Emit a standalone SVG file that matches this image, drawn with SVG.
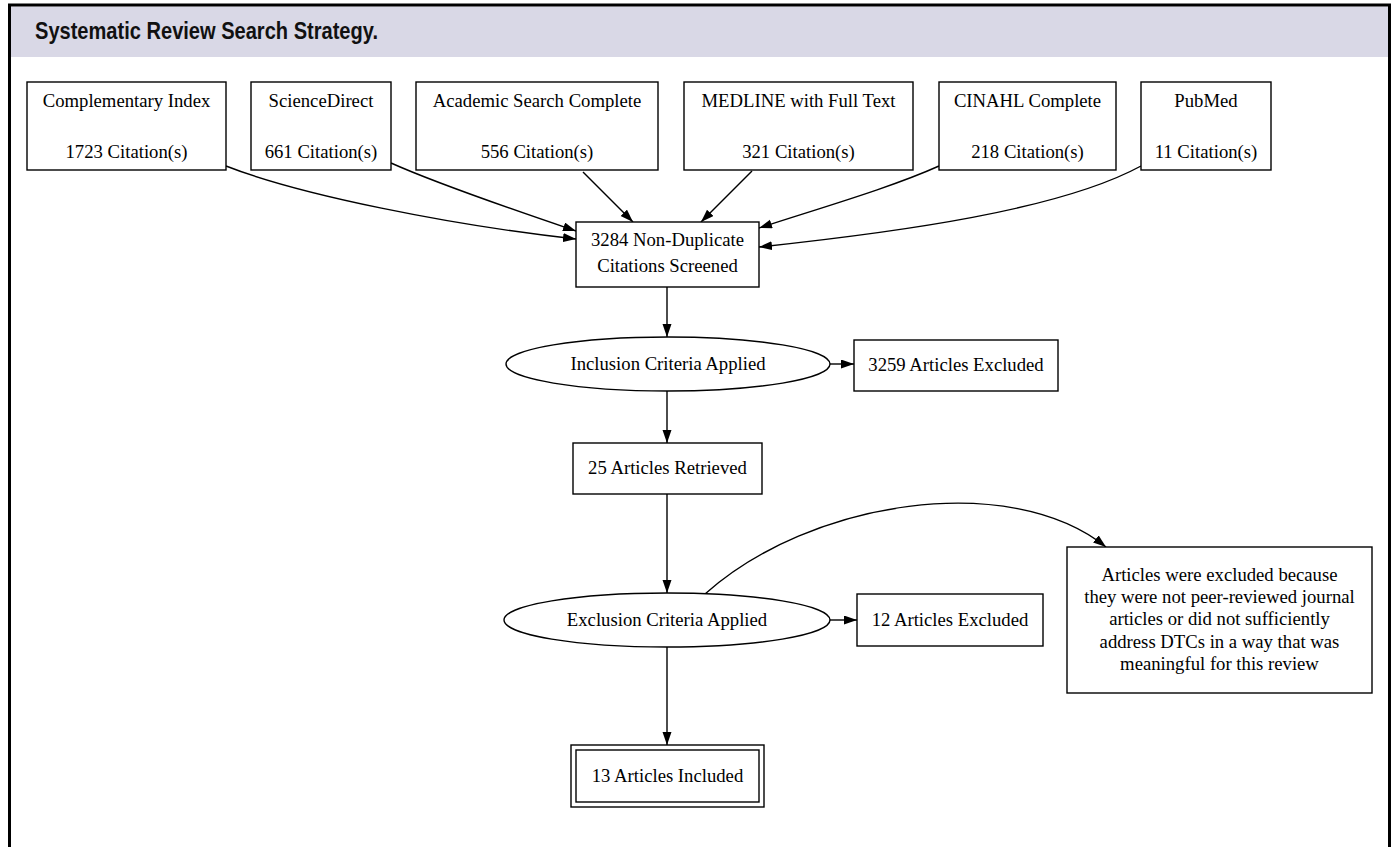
<svg xmlns="http://www.w3.org/2000/svg" width="1393" height="847" viewBox="0 0 1393 847">
<style>
.n{fill:#fff;stroke:#000;stroke-width:1.4}
.t{font-family:"Liberation Serif","Times New Roman",serif;font-size:18.7px;fill:#000;text-anchor:middle}
.e{fill:none;stroke:#000;stroke-width:1.4}
</style>
<defs>
<marker id="ah" markerUnits="userSpaceOnUse" markerWidth="14" markerHeight="10" refX="13" refY="4.5" orient="auto">
<path d="M0,0 L13,4.5 L0,9 z" fill="#000"/>
</marker>
</defs>
<rect x="0" y="0" width="1393" height="847" fill="#fff"/>
<rect x="11" y="6.5" width="1377" height="50.5" fill="#d9d8e6"/>
<rect x="9.5" y="5" width="1380" height="850" fill="none" stroke="#000" stroke-width="3"/>
<text x="35" y="39" font-family="'Liberation Sans Narrow','Liberation Sans',Arial,sans-serif" font-weight="bold" font-size="24" textLength="343" lengthAdjust="spacingAndGlyphs" fill="#111">Systematic Review Search Strategy.</text>

<g id="connectors">
<path class="e" marker-end="url(#ah)" d="M226,166 C300,195 450,225 576,239"/>
<path class="e" marker-end="url(#ah)" d="M391,163 C440,185 520,212 576,231"/>
<path class="e" marker-end="url(#ah)" d="M583,172 L633,222"/>
<path class="e" marker-end="url(#ah)" d="M752,171 L701,222"/>
<path class="e" marker-end="url(#ah)" d="M939,166 C890,188 820,208 759,228"/>
<path class="e" marker-end="url(#ah)" d="M1141,166 C1060,210 900,232 759,247"/>
<path class="e" marker-end="url(#ah)" d="M667,287 L667,337"/>
<path class="e" marker-end="url(#ah)" d="M830,364 L854,364"/>
<path class="e" marker-end="url(#ah)" d="M667,391 L667,443"/>
<path class="e" marker-end="url(#ah)" d="M667,494 L667,593"/>
<path class="e" marker-end="url(#ah)" d="M830,620 L857,620"/>
<path class="e" marker-end="url(#ah)" d="M667,647 L667,745"/>
<path class="e" marker-end="url(#ah)" d="M705,594 C810,500 1010,470 1106,547"/>
</g>

<g id="complementary">
<rect class="n" x="27" y="82" width="199" height="88"/>
<text class="t" x="126.5" y="107">Complementary Index</text>
<text class="t" x="126.5" y="158">1723 Citation(s)</text>
</g>
<g id="sciencedirect">
<rect class="n" x="251" y="82" width="140" height="88"/>
<text class="t" x="321" y="107">ScienceDirect</text>
<text class="t" x="321" y="158">661 Citation(s)</text>
</g>
<g id="academic">
<rect class="n" x="416" y="82" width="242" height="88"/>
<text class="t" x="537" y="107">Academic Search Complete</text>
<text class="t" x="537" y="158">556 Citation(s)</text>
</g>
<g id="medline">
<rect class="n" x="684" y="82" width="229" height="88"/>
<text class="t" x="798.5" y="107">MEDLINE with Full Text</text>
<text class="t" x="798.5" y="158">321 Citation(s)</text>
</g>
<g id="cinahl">
<rect class="n" x="939" y="82" width="177" height="88"/>
<text class="t" x="1027.5" y="107">CINAHL Complete</text>
<text class="t" x="1027.5" y="158">218 Citation(s)</text>
</g>
<g id="pubmed">
<rect class="n" x="1141" y="82" width="130" height="88"/>
<text class="t" x="1206" y="107">PubMed</text>
<text class="t" x="1206" y="158">11 Citation(s)</text>
</g>
<g id="screened">
<rect class="n" x="576" y="222" width="183" height="65"/>
<text class="t" x="667.5" y="246">3284 Non-Duplicate</text>
<text class="t" x="667.5" y="272">Citations Screened</text>
</g>
<g id="inclusion">
<ellipse class="n" cx="668" cy="364" rx="162" ry="27"/>
<text class="t" x="668" y="370">Inclusion Criteria Applied</text>
</g>
<g id="excluded3259">
<rect class="n" x="854" y="340" width="204" height="51"/>
<text class="t" x="956" y="371">3259 Articles Excluded</text>
</g>
<g id="retrieved">
<rect class="n" x="573" y="443" width="189" height="51"/>
<text class="t" x="667.5" y="474">25 Articles Retrieved</text>
</g>
<g id="exclusion">
<ellipse class="n" cx="667" cy="620" rx="163" ry="27"/>
<text class="t" x="667" y="626">Exclusion Criteria Applied</text>
</g>
<g id="excluded12">
<rect class="n" x="857" y="594" width="186" height="52"/>
<text class="t" x="950" y="626">12 Articles Excluded</text>
</g>
<g id="note">
<rect class="n" x="1067" y="547" width="305" height="146"/>
<text class="t" x="1219.5" y="581">Articles were excluded because</text>
<text class="t" x="1219.5" y="603.2">they were not peer-reviewed journal</text>
<text class="t" x="1219.5" y="625.4">articles or did not sufficiently</text>
<text class="t" x="1219.5" y="647.6">address DTCs in a way that was</text>
<text class="t" x="1219.5" y="669.8">meaningful for this review</text>
</g>
<g id="included">
<rect class="n" x="571" y="745" width="193" height="62"/>
<rect class="n" x="576" y="750" width="183" height="52"/>
<text class="t" x="667.5" y="782">13 Articles Included</text>
</g>
</svg>
